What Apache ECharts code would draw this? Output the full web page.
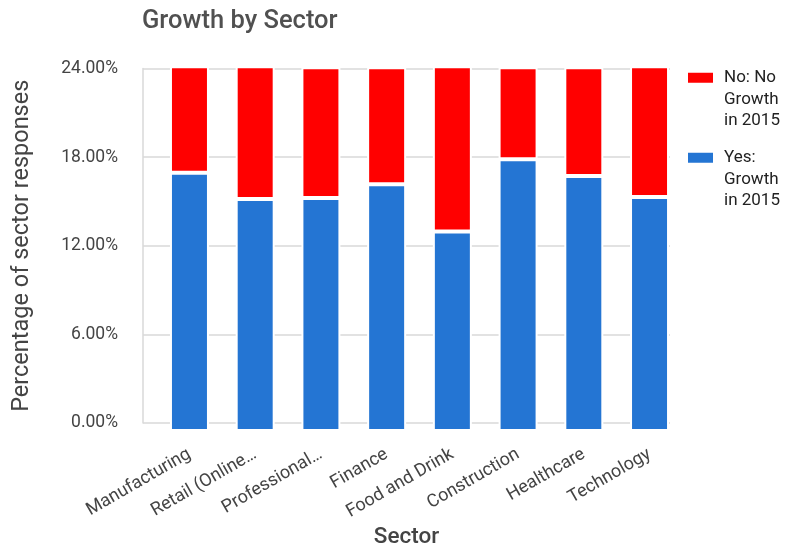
<!DOCTYPE html>
<html>
<head>
<meta charset="utf-8">
<script src="https://cdn.jsdelivr.net/npm/echarts@6/dist/echarts.min.js"></script>
<style>
  html, body { margin: 0; padding: 0; background: #fff; }
  #chart { width: 785px; height: 554px; }
</style>
</head>
<body>
<div id="chart"></div>
<script>
// Sectors on the category axis
const sectors = ['Manufacturing', 'Retail (Online…', 'Professional…', 'Finance',
  'Food and Drink', 'Construction', 'Healthcare', 'Technology'];

// Share of sector responses (%) reporting growth in 2015
const yesGrowth = [17.10, 15.36, 15.43, 16.33, 13.21, 18.00, 16.89, 15.50];
// Share of sector responses (%) reporting no growth in 2015
const noGrowth = [7.05, 8.79, 8.65, 7.75, 10.94, 6.08, 7.19, 8.65];

// Value axis ticks
const yTicks = [0, 6, 12, 18, 24];

const seriesNames = ['Yes: Growth in 2015', 'No: No Growth in 2015'];
// Legend entries wrap over three lines; the two leading blank lines keep
// the first line level with the colour swatch.
const legendText = {
  'Yes: Growth in 2015': '\n\nYes:\nGrowth\nin 2015',
  'No: No Growth in 2015': '\n\nNo: No\nGrowth\nin 2015'
};

const FONT = 'Roboto, "Noto Sans", sans-serif';
const GRID_COLOR = '#d9d9d9';
const TOP = 68.5, BOTTOM = 123;

const chart = echarts.init(document.getElementById('chart'), null, { renderer: 'canvas' });

const legendCommon = {
  orient: 'vertical',
  left: 686,
  padding: 0,
  itemWidth: 27,
  itemHeight: 12,
  icon: 'rect',
  selectedMode: false,
  formatter: name => legendText[name],
  textStyle: {
    fontFamily: FONT,
    fontSize: 17,
    lineHeight: 21.5,
    color: '#222',
    padding: [0, 0, 0, 5]
  }
};

chart.setOption({
  animation: false,
  textStyle: { fontFamily: FONT },
  title: {
    text: 'Growth by Sector',
    left: 142,
    top: 9,
    padding: 0,
    textStyle: { fontFamily: FONT, fontSize: 25.5, fontWeight: 500, color: '#505050' }
  },
  legend: [
    Object.assign({}, legendCommon, { top: 24, data: [seriesNames[1]] }),
    Object.assign({}, legendCommon, { top: 104, data: [seriesNames[0]] })
  ],
  grid: [
    // frame: gridlines, value labels and axis titles
    { left: 143, right: 115, top: TOP, bottom: BOTTOM },
    // bars
    { left: 156.6, right: 102.6, top: TOP, bottom: BOTTOM }
  ],
  xAxis: [
    {
      gridIndex: 0,
      type: 'category',
      data: sectors,
      axisLine: { show: false },
      axisTick: { show: false },
      axisLabel: { show: false },
      name: 'Sector',
      nameLocation: 'middle',
      nameGap: 103,
      nameTextStyle: { fontFamily: FONT, fontSize: 22.5, fontWeight: 500, color: '#444' }
    },
    {
      gridIndex: 1,
      type: 'category',
      data: sectors,
      axisLine: { show: false },
      axisTick: { show: false },
      axisLabel: {
        rotate: 30,
        margin: 22,
        interval: 0,
        fontFamily: FONT,
        fontSize: 18,
        color: '#444'
      }
    }
  ],
  yAxis: [
    {
      gridIndex: 0,
      type: 'value',
      min: yTicks[0],
      max: yTicks[yTicks.length - 1],
      interval: yTicks[1] - yTicks[0],
      axisLine: { show: true, lineStyle: { color: GRID_COLOR, width: 1.5 } },
      axisTick: { show: false },
      splitLine: { lineStyle: { color: GRID_COLOR, width: 1.5 } },
      axisLabel: {
        margin: 25,
        fontFamily: FONT,
        fontSize: 17.5,
        color: '#444',
        formatter: v => v.toFixed(2) + '%'
      },
      name: 'Percentage of sector responses',
      nameLocation: 'middle',
      nameGap: 109,
      nameTextStyle: { fontFamily: FONT, fontSize: 23.5, color: '#444' }
    },
    {
      gridIndex: 1,
      type: 'value',
      min: yTicks[0],
      max: yTicks[yTicks.length - 1],
      interval: yTicks[1] - yTicks[0],
      show: false,
      splitLine: { show: false }
    }
  ],
  series: [
    {
      name: seriesNames[0],
      type: 'bar',
      stack: 'growth',
      xAxisIndex: 1,
      yAxisIndex: 1,
      barWidth: 39,
      clip: false,
      data: yesGrowth,
      itemStyle: { color: '#2475d3', borderColor: '#fff', borderWidth: 2 }
    },
    {
      name: seriesNames[1],
      type: 'bar',
      stack: 'growth',
      xAxisIndex: 1,
      yAxisIndex: 1,
      barWidth: 39,
      clip: false,
      data: noGrowth,
      itemStyle: { color: '#ff0000', borderColor: '#fff', borderWidth: 2 }
    }
  ]
});
</script>
</body>
</html>
